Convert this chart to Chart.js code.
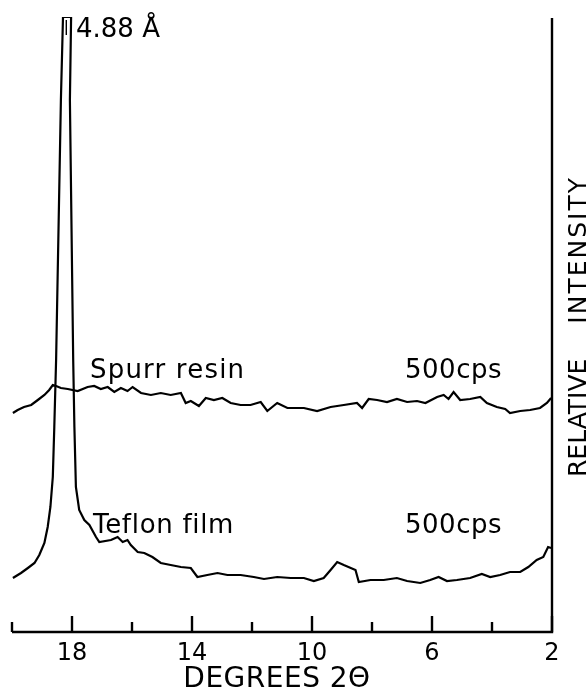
<!DOCTYPE html>
<html>
<head>
<meta charset="utf-8">
<script src="https://cdn.jsdelivr.net/npm/chart.js@4/dist/chart.umd.min.js"></script>
<style>
  html, body { margin: 0; padding: 0; background: #fff; }
  #wrap { width: 588px; height: 689px; }
</style>
</head>
<body>
<div id="wrap"><canvas id="xrd"></canvas></div>
<script>
// degrees 2-theta and relative intensity
const spurrDeg = [19.97, 19.81, 19.60, 19.36, 19.14, 18.92, 18.76, 18.64, 18.53, 18.37, 18.14, 17.81, 17.48, 17.26,
  17.04, 16.81, 16.59, 16.37, 16.15, 15.98, 15.70, 15.37, 15.04, 14.71, 14.37, 14.21, 14.04, 13.77, 13.54, 13.27,
  12.99, 12.71, 12.38, 12.05, 11.71, 11.49, 11.16, 10.82, 10.38, 10.27, 9.83, 9.38, 8.94, 8.50, 8.33, 8.11, 7.83,
  7.50, 7.17, 6.83, 6.50, 6.22, 5.83, 5.61, 5.45, 5.28, 5.06, 4.73, 4.39, 4.17, 3.84, 3.56, 3.40, 3.06, 2.73, 2.40,
  2.17, 2.03];
const spurrInt = [219, 222, 225, 227, 232, 237, 242, 247, 246, 244, 243, 241, 245, 246,
  243, 245, 240, 244, 241, 245, 239, 237, 239, 237, 239, 229, 231, 226, 234, 232,
  234, 229, 227, 227, 230, 221, 229, 224, 224, 224, 221, 225, 227, 229, 224, 233, 232,
  230, 233, 230, 231, 229, 235, 237, 233, 240, 232, 233, 235, 229, 225, 223, 219, 221, 222, 224,
  229, 234];

const teflonDeg = [19.97, 19.70, 19.47, 19.25, 19.09, 18.92, 18.81, 18.72, 18.64, 18.59, 18.53, 18.37, 18.30,
  18.03, 18.07, 17.96, 17.92, 17.87, 17.76, 17.59, 17.42, 17.20, 17.09, 16.70, 16.48, 16.31, 16.15, 16.04,
  15.81, 15.59, 15.32, 15.04, 14.71, 14.37, 14.04, 13.82, 13.49, 13.15, 12.82, 12.38, 11.94, 11.60, 11.16,
  10.71, 10.27, 9.94, 9.61, 9.38, 9.16, 8.94, 8.55, 8.44, 8.05, 7.61, 7.17, 6.83, 6.39, 6.06, 5.78, 5.50,
  5.17, 4.73, 4.34, 4.06, 3.73, 3.40, 3.06, 2.79, 2.51, 2.29, 2.13, 2.03];
const teflonInt = [54, 59, 64, 69, 77, 89, 105, 125, 155, 205, 272, 532, 615,
  615, 532, 272, 205, 145, 122, 112, 107, 95, 90, 92, 95, 90, 92, 87,
  80, 79, 75, 69, 67, 65, 64, 55, 57, 59, 57, 57, 55, 53, 55,
  54, 54, 51, 54, 62, 70, 67, 62, 50, 52, 52, 54, 51, 49, 52, 55, 51,
  52, 54, 58, 55, 57, 60, 60, 65, 72, 75, 85, 84];

// off-scale marker inside the peak top
const markDeg = [18.19, 18.19];
const markInt = [612, 597];

const majorTicks = [18, 14, 10, 6, 2];
const minorTicks = [20, 16, 12, 8, 4];

const FONT = '"DejaVu Sans", sans-serif';

function toPoints(xs, ys) {
  return xs.map((x, i) => ({ x: x, y: ys[i] }));
}

function label(ctx, text, x, y, size, spacing, align) {
  ctx.font = size + 'px ' + FONT;
  ctx.letterSpacing = spacing + 'px';
  ctx.textAlign = align || 'left';
  ctx.textBaseline = 'alphabetic';
  ctx.fillText(text, x, y);
}

const framePlugin = {
  id: 'frame',
  afterDatasetsDraw(chart) {
    const ctx = chart.ctx;
    const xs = chart.scales.x;
    const area = chart.chartArea;
    const base = area.bottom;
    ctx.save();
    ctx.strokeStyle = '#000';
    ctx.fillStyle = '#000';
    ctx.lineWidth = 2.4;

    // bottom axis and right-hand border
    ctx.beginPath();
    ctx.moveTo(xs.getPixelForValue(20), base);
    ctx.lineTo(xs.getPixelForValue(2), base);
    ctx.lineTo(xs.getPixelForValue(2), area.top + 1);
    ctx.stroke();

    // ticks point up into the plot
    majorTicks.forEach(v => {
      const px = xs.getPixelForValue(v);
      ctx.beginPath();
      ctx.moveTo(px, base);
      ctx.lineTo(px, base - 16);
      ctx.stroke();
      label(ctx, String(v), px, 660, 24, 0, 'center');
    });
    minorTicks.forEach(v => {
      const px = xs.getPixelForValue(v);
      ctx.beginPath();
      ctx.moveTo(px, base);
      ctx.lineTo(px, base - 10);
      ctx.stroke();
    });

    label(ctx, 'DEGREES 2\u0398', 277, 687, 28, 0.5, 'center');

    // series annotations
    label(ctx, '4.88 \u00C5', 76, 37, 26, 0);
    label(ctx, 'Spurr resin', 90, 378, 26, 1.2);
    label(ctx, '500cps', 405, 378, 26, 0.5);
    label(ctx, 'Teflon film', 93, 533, 26, 0.7);
    label(ctx, '500cps', 405, 533, 26, 0.5);

    // rotated axis title
    ctx.translate(586, 0);
    ctx.rotate(-Math.PI / 2);
    label(ctx, 'RELATIVE', -477, 0, 25, 0, 'left');
    label(ctx, 'INTENSITY', -176, 0, 25, 2, 'right');
    ctx.restore();
  }
};

const lineStyle = {
  borderColor: '#000',
  borderWidth: 2.2,
  pointRadius: 0,
  tension: 0,
  fill: false
};

new Chart(document.getElementById('xrd'), {
  type: 'line',
  data: {
    datasets: [
      Object.assign({ label: 'Spurr resin', data: toPoints(spurrDeg, spurrInt) }, lineStyle),
      Object.assign({ label: 'Teflon film', data: toPoints(teflonDeg, teflonInt) }, lineStyle),
      Object.assign({ label: 'off scale', data: toPoints(markDeg, markInt) }, lineStyle, { borderWidth: 1.4 })
    ]
  },
  options: {
    responsive: true,
    maintainAspectRatio: false,
    animation: false,
    layout: { padding: { left: 12, right: 36, top: 17, bottom: 57 } },
    plugins: { legend: { display: false }, tooltip: { enabled: false } },
    scales: {
      x: { type: 'linear', reverse: true, min: 2, max: 20, display: false },
      y: { type: 'linear', min: 0, max: 615, display: false }
    }
  },
  plugins: [framePlugin]
});
</script>
</body>
</html>
